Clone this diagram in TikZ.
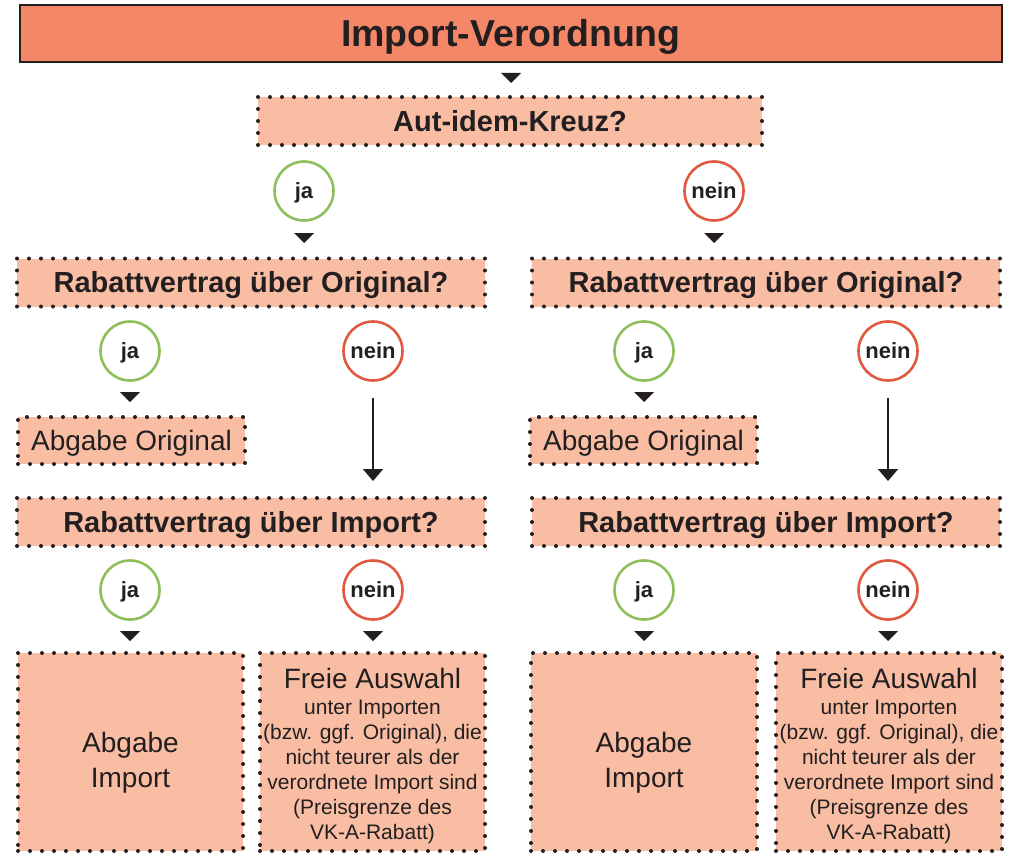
\documentclass[tikz,border=0pt]{standalone}
\usepackage{fontspec}
\setmainfont{Liberation Sans}
\usetikzlibrary{arrows.meta}
\definecolor{titlefill}{HTML}{F48767}
\definecolor{boxfill}{HTML}{F9BDA4}
\definecolor{jagreen}{HTML}{8DBF5B}
\definecolor{neinred}{HTML}{DF5A40}
\definecolor{ink}{HTML}{231F20}
\tikzset{
  titlebox/.style={draw=ink, line width=2.5pt, fill=titlefill, minimum width=982pt, minimum height=57pt, inner sep=0pt, text=ink, text height=26.8pt, text depth=0pt, font=\fontsize{37.5}{40}\selectfont\bfseries},
  dotbox/.style={draw=ink, fill=boxfill, line width=4pt, dash pattern=on 0pt off 12pt, line cap=round, inner sep=0pt, text=ink},
  qbox/.style={dotbox, minimum width=468pt, minimum height=48pt, text height=20.8pt, text depth=0pt, font=\fontsize{29}{32}\selectfont\bfseries},
  answerbox/.style={dotbox, align=center},
  boxtext/.style={inner sep=0pt, text=ink, align=center},
  bigtext/.style={font=\fontsize{28}{35}\selectfont},
  smalltext/.style={font=\fontsize{21}{25}\selectfont},
  jac/.style={circle, draw=jagreen, line width=2.6pt, minimum size=59pt, inner sep=0pt, text=ink, text height=15pt, text depth=0pt, font=\fontsize{22}{26}\selectfont\bfseries},
  neinc/.style={jac, draw=neinred},
  tric/.style={fill=ink},
  longarr/.style={draw=ink, line width=2pt, -{Triangle[width=20pt,length=12pt]}}
}
\newcommand\downtri[1]{\fill[tric] (#1) ++(-10,-5) -- ++(20,0) -- ++(-10,10) -- cycle;}
\begin{document}
\begin{tikzpicture}[x=1pt,y=-1pt]
\useasboundingbox (0,0) rectangle (1011,853);
% title
\node[titlebox] (title) at (511,33.5) {Import-Verordnung};
\coordinate (t0) at (511,78);
\downtri{t0}
\node[qbox, minimum width=504pt] (aut) at (510,121) {Aut-idem-Kreuz?};
% level 1 answers
\node[jac] (jaTop) at (304,191) {ja};
\node[neinc] (neinTop) at (714,191) {nein};
\coordinate (t1) at (304,238); \downtri{t1}
\coordinate (t2) at (714,238); \downtri{t2}
% question boxes original
\node[qbox] (q1L) at (251,282.5) {Rabattvertrag über Original?};
\node[qbox] (q1R) at (766,282.5) {Rabattvertrag über Original?};
% answers
\node[jac] (jaL1) at (130,351) {ja};
\node[neinc] (neinL1) at (373,351) {nein};
\node[jac] (jaR1) at (644,351) {ja};
\node[neinc] (neinR1) at (888,351) {nein};
\coordinate (t3) at (130,397); \downtri{t3}
\coordinate (t4) at (644,397); \downtri{t4}
\node[answerbox, bigtext, text height=20pt, text depth=0pt, minimum width=227pt, minimum height=47pt] (origL) at (131.5,440.5) {Abgabe Original};
\node[answerbox, bigtext, text height=20pt, text depth=0pt, minimum width=227pt, minimum height=47pt] (origR) at (643.5,440.5) {Abgabe Original};
% import questions
\node[qbox] (q2L) at (251,522) {Rabattvertrag über Import?};
\node[qbox] (q2R) at (766,522) {Rabattvertrag über Import?};
\draw[longarr] ([yshift=-16pt]neinL1.south) -- ([yshift=15pt]q2L.north -| neinL1.south);
\draw[longarr] ([yshift=-16pt]neinR1.south) -- ([yshift=15pt]q2R.north -| neinR1.south);
% answers
\node[jac] (jaL2) at (130,590) {ja};
\node[neinc] (neinL2) at (373,590) {nein};
\node[jac] (jaR2) at (644,590) {ja};
\node[neinc] (neinR2) at (888,590) {nein};
\coordinate (t5) at (130,636); \downtri{t5}
\coordinate (t6) at (373,636); \downtri{t6}
\coordinate (t7) at (644,636); \downtri{t7}
\coordinate (t8) at (888,636); \downtri{t8}
% final boxes
\node[answerbox, minimum width=225pt, minimum height=198pt] (impL) at (130.5,752) {};
\node[boxtext, bigtext] (impLt) at ([yshift=-11pt]impL.center) {Abgabe\\Import};
\node[answerbox, minimum width=226pt, minimum height=198pt] (impR) at (644,752) {};
\node[boxtext, bigtext] (impRt) at ([yshift=-11pt]impR.center) {Abgabe\\Import};
\node[answerbox, minimum width=225pt, minimum height=198pt] (freeL) at (372.5,752) {};
\node[boxtext, smalltext] (freeLt) at ([yshift=-4pt]freeL.center) {{\fontsize{28}{26}\selectfont Freie Auswahl}\\[1pt]unter Importen\\(bzw. ggf. Original), die\\nicht teurer als der\\verordnete Import sind\\(Preisgrenze des\\VK-A-Rabatt)};
\node[answerbox, minimum width=226pt, minimum height=198pt] (freeR) at (889,752) {};
\node[boxtext, smalltext] (freeRt) at ([yshift=-4pt]freeR.center) {{\fontsize{28}{26}\selectfont Freie Auswahl}\\[1pt]unter Importen\\(bzw. ggf. Original), die\\nicht teurer als der\\verordnete Import sind\\(Preisgrenze des\\VK-A-Rabatt)};
\end{tikzpicture}
\end{document}
